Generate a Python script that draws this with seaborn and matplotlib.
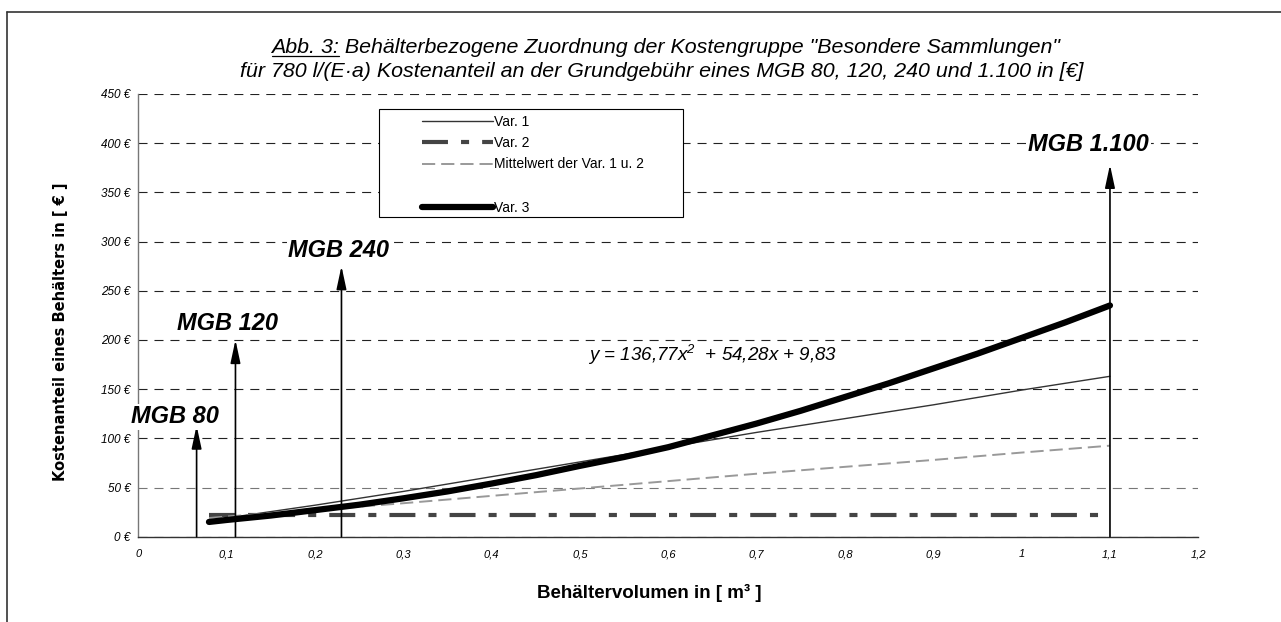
import matplotlib
matplotlib.use('Agg')
import matplotlib.pyplot as plt
import seaborn as sns
from matplotlib.lines import Line2D
from matplotlib.patches import Rectangle
from matplotlib.ticker import MultipleLocator

# values
vol = [0.08, 0.1, 0.2, 0.3, 0.4, 0.5, 0.6, 0.7, 0.8, 0.9, 1.0, 1.1]
var1 = [16, 19, 32, 46, 61, 76, 91, 106, 120, 134, 149, 163]
var2 = [22, 22, 22, 22, 22, 22, 22, 22, 22, 22, 22, 22]
mittel = [19, 20.5, 27, 34, 41.5, 49, 56.5, 64, 71, 78, 85.5, 92.5]

# Var. 3 is a smooth curve, read at finer steps
vol3 = [0.08, 0.1, 0.15, 0.2, 0.25, 0.3, 0.35, 0.4, 0.45, 0.5, 0.55, 0.6,
        0.65, 0.7, 0.75, 0.8, 0.85, 0.9, 0.95, 1.0, 1.05, 1.1]
var3 = [15, 17, 21.5, 27, 32.5, 39, 46, 54, 62.5, 72, 81, 91,
        103, 115, 128, 142, 156, 171, 186, 202, 218, 235]

mgb_labels = ['MGB 80', 'MGB 120', 'MGB 240', 'MGB 1.100']
mgb_x = [0.066, 0.11, 0.23, 1.1]
mgb_top = [113, 200, 275, 378]
mgb_label_x = [0.042, 0.101, 0.227, 1.076]
mgb_label_y = [122, 217, 291, 399]

y_ticks = [0, 50, 100, 150, 200, 250, 300, 350, 400, 450]
x_ticks = [0, 0.1, 0.2, 0.3, 0.4, 0.5, 0.6, 0.7, 0.8, 0.9, 1.0, 1.1, 1.2]
x_ticklabels = ['0', '0,1', '0,2', '0,3', '0,4', '0,5', '0,6', '0,7', '0,8',
                '0,9', '1', '1,1', '1,2']

sns.set_style('white')
plt.rcParams['font.family'] = ['Liberation Sans', 'DejaVu Sans']
plt.rcParams['text.color'] = 'black'
plt.rcParams['axes.labelcolor'] = 'black'
plt.rcParams['xtick.color'] = 'black'
plt.rcParams['ytick.color'] = 'black'
plt.rcParams['lines.scale_dashes'] = False
plt.rcParams['mathtext.fontset'] = 'custom'
plt.rcParams['mathtext.it'] = 'Liberation Sans:italic'
plt.rcParams['mathtext.rm'] = 'Liberation Sans:italic'
plt.rcParams['mathtext.default'] = 'it'

W, H = 1281, 622
def fx(px):
    return px / W
def fy(py):
    return 1 - py / H

fig = plt.figure(figsize=(W / 100, H / 100), dpi=100)
ax = fig.add_axes([fx(138.3), fy(536.7), 1060 / W, 442.8 / H])

dash_var2 = (0, (18.7, 9.4, 5.8, 9.4))
dash_mean = (0, (9.5, 4.3))

sns.lineplot(x=vol, y=var1, color='#333333', lw=1.0, errorbar=None, ax=ax, zorder=3)
sns.lineplot(x=vol, y=var2, color='#444444', lw=3, linestyle=dash_var2,
             errorbar=None, ax=ax, zorder=3)
sns.lineplot(x=vol, y=mittel, color='#999999', lw=1.4, linestyle=dash_mean,
             errorbar=None, ax=ax, zorder=3)
sns.lineplot(x=vol3, y=var3, color='black', lw=4.5, solid_capstyle='round',
             solid_joinstyle='round', errorbar=None, ax=ax, zorder=4)

ax.set_xlim(0, 1.2)
ax.set_ylim(0, 450)
ax.set_xticks(x_ticks, labels=x_ticklabels, fontstyle='italic', fontsize=8)
ax.set_yticks(y_ticks, labels=[f'{v} €' for v in y_ticks], fontstyle='italic', fontsize=8.5)
ax.xaxis.set_minor_locator(MultipleLocator(0.02))
ax.tick_params(axis='x', which='major', direction='inout', length=6, width=0.8, pad=6)
ax.tick_params(axis='x', which='minor', direction='inout', length=4, width=0.8)
ax.tick_params(axis='y', which='major', direction='inout', length=5, width=0.8, pad=3)

ax.yaxis.grid(True, color='#222222', lw=0.8, linestyle=(0, (6.5, 5)))
ax.xaxis.grid(False)
ax.set_axisbelow(True)
ax.get_ygridlines()[1].set_color('#777777')

ax.spines[['top', 'right']].set_visible(False)
ax.spines['left'].set_color('#777777')
ax.spines['bottom'].set_color('#333333')
ax.spines['left'].set_linewidth(1.0)
ax.spines['bottom'].set_linewidth(1.0)

ax.set_xlabel('Behältervolumen in [ m³ ]', fontsize=13.5, fontweight='bold')
ax.xaxis.label.set_va('center')
ax.xaxis.set_label_coords(0.482, -0.126)
ax.set_ylabel('Kostenanteil eines Behälters in [ € ]', fontsize=10.5,
              fontweight='bold', family=['DejaVu Sans'])
ax.yaxis.label.set_va('center')
ax.yaxis.set_label_coords(-0.0735, 0.462)

# arrows and container labels
for x, top in zip(mgb_x, mgb_top):
    ax.annotate('', xy=(x, top), xytext=(x, 0),
                arrowprops=dict(arrowstyle='-|>,head_length=1.4,head_width=0.3',
                                color='black', lw=1.2, shrinkA=0, shrinkB=0,
                                mutation_scale=10),
                zorder=5)
for lab, lx, ly in zip(mgb_labels, mgb_label_x, mgb_label_y):
    ax.text(lx, ly, lab, ha='center', va='center', fontsize=17,
            fontweight='bold', fontstyle='italic', zorder=6,
            bbox=dict(facecolor='white', edgecolor='none', pad=1))

ax.text(0.509, 178.6, r'y = 136,77x$^{2}$  + 54,28x + 9,83', fontsize=13.5,
        fontstyle='italic', va='baseline', zorder=6)

# legend box
fig.add_artist(Rectangle((fx(379), fy(217)), (683 - 379) / W, (217 - 109) / H,
                         transform=fig.transFigure, facecolor='white',
                         edgecolor='black', lw=0.8, zorder=2))
handles = [
    Line2D([], [], color='#333333', lw=1.0),
    Line2D([], [], color='#444444', lw=3, linestyle=dash_var2),
    Line2D([], [], color='#999999', lw=1.4, linestyle=dash_mean),
    Line2D([], [], color='none'),
    Line2D([], [], color='black', lw=4.5, solid_capstyle='round'),
]
labels = ['Var. 1', 'Var. 2', 'Mittelwert der Var. 1 u. 2', ' ', 'Var. 3']
leg = fig.legend(handles, labels, loc='upper left',
                 bbox_to_anchor=(fx(422), fy(114.5)), borderpad=0, borderaxespad=0,
                 handlelength=5.1, handletextpad=0.05, labelspacing=0.54,
                 frameon=False, fontsize=10)
leg.set_zorder(5)

# outer frame (only left and top edges are visible)
fig.add_artist(Line2D([fx(7), fx(7)], [fy(12), 0], transform=fig.transFigure,
                      color='#333333', lw=1.2))
fig.add_artist(Line2D([fx(7), 1], [fy(12), fy(12)], transform=fig.transFigure,
                      color='#333333', lw=1.2))

# title
title1 = 'Abb. 3: Behälterbezogene Zuordnung der Kostengruppe "Besondere Sammlungen"'
title2 = 'für 780 l/(E·a) Kostenanteil an der Grundgebühr eines MGB 80, 120, 240 und 1.100 in [€]'
t1 = fig.text(fx(666), fy(53), title1, ha='center', va='baseline', fontsize=15.4,
              fontstyle='italic')
fig.text(fx(662), fy(77), title2, ha='center', va='baseline', fontsize=15.4,
         fontstyle='italic')

renderer = fig.canvas.get_renderer()
bb = t1.get_window_extent(renderer)
tmp = fig.text(0, 0, 'Abb. 3:', fontsize=15.4, fontstyle='italic')
w = tmp.get_window_extent(renderer).width
tmp.remove()
fig.add_artist(Line2D([bb.x0 / W, (bb.x0 + w) / W], [fy(55.5)] * 2,
                      transform=fig.transFigure, color='black', lw=0.9))

fig.savefig('out.png', dpi=100)
